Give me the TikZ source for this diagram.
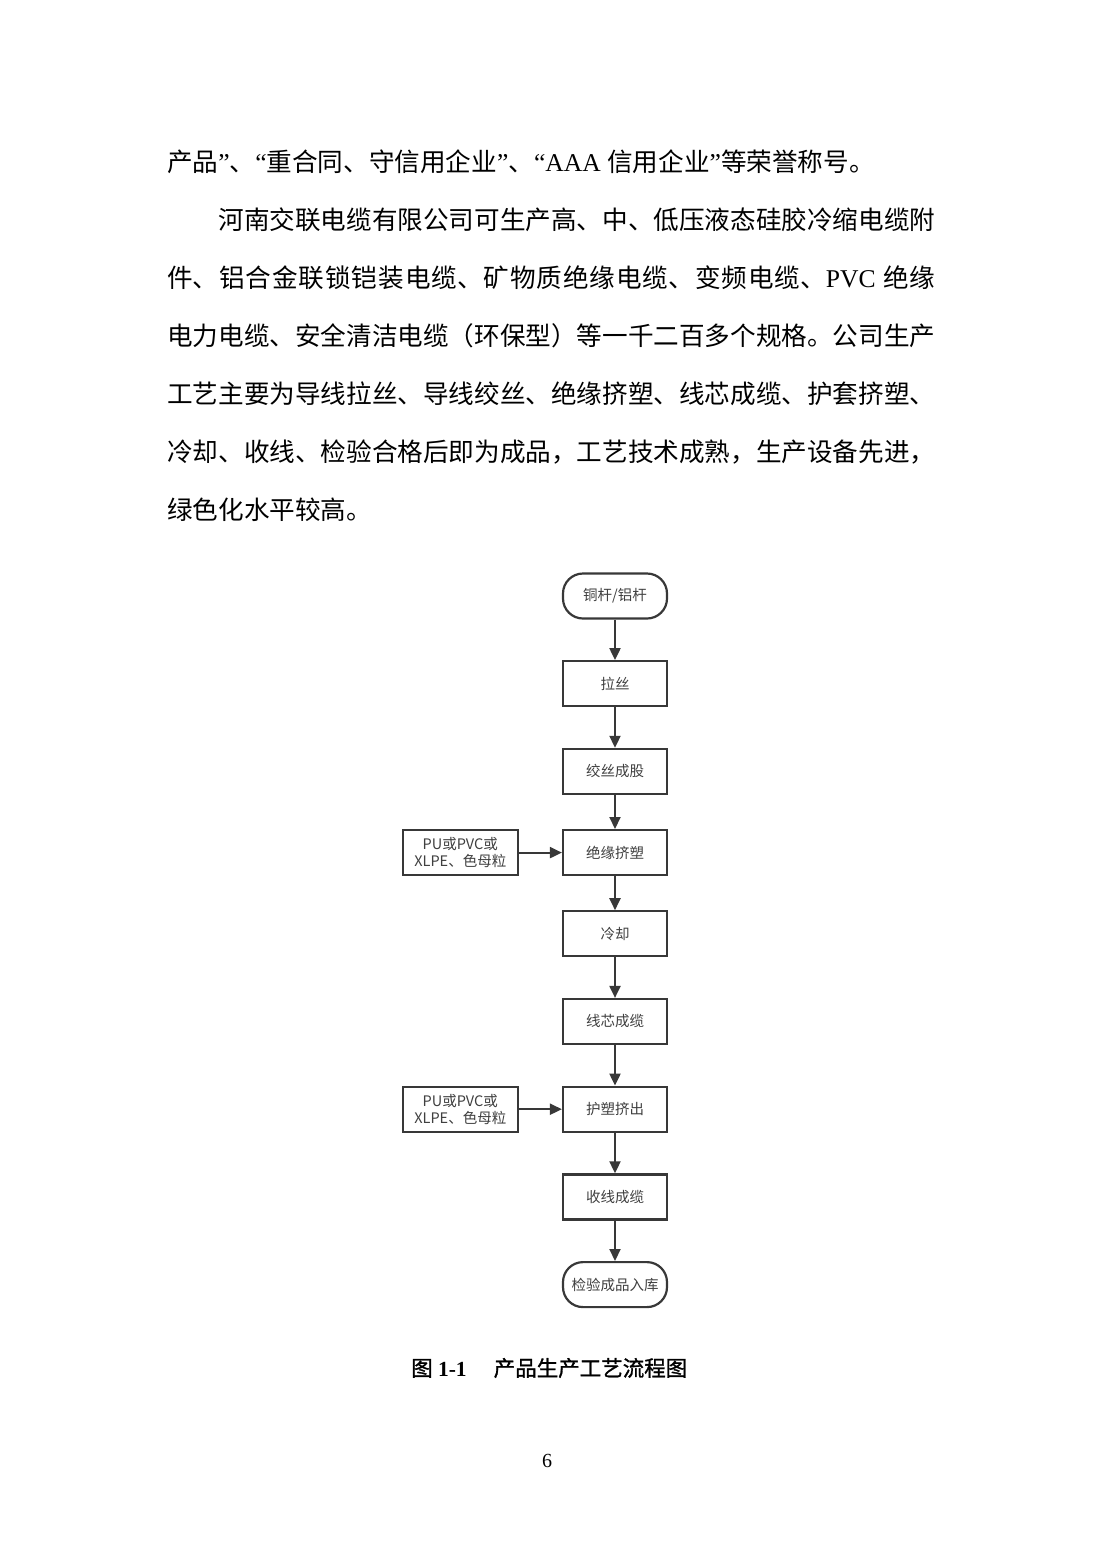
\documentclass[tikz,border=0pt]{standalone}
\usepackage{fontspec}
\setmainfont{Noto Sans CJK SC}
\newfontfamily\latin{Liberation Serif}
\newfontfamily\capfont[FakeBold=1.2]{Noto Sans CJK SC}
\usetikzlibrary{positioning,arrows.meta}
\XeTeXlinebreaklocale "zh"
\XeTeXlinebreakskip=0pt plus 3pt minus 0.5pt
\newcommand\en[1]{{\latin #1}}
\definecolor{boxline}{HTML}{383838}
\definecolor{boxtext}{HTML}{404040}

\begin{document}
\begin{tikzpicture}[x=1pt,y=-1pt,
    body/.style={anchor=base west,inner sep=0pt,text width=768pt,align=justify,
      font=\fontsize{25.6}{58}\selectfont},
    proc/.style={draw=boxline,line width=2.2pt,minimum width=104pt,minimum height=45pt,
      text=boxtext,font=\fontsize{14.5}{17}\selectfont,align=center,inner sep=1pt},
    term/.style={proc,rounded corners=20pt},
    feed/.style={proc,minimum width=115pt},
    flow/.style={draw=boxline,line width=2pt,-{Triangle[length=12pt,width=11pt]}},
    node distance=40.5pt]
  \fill[white] (0,0) rectangle (1102,1559);
  \useasboundingbox (0,0) rectangle (1102,1559);

  % text of the page
  \node[body] (txt) at (167,171.7) {\parindent=0pt
    产品\en{”}、\en{“}重合同、守信用企业\en{”}、\en{“}\en{AAA }信用企业\en{”}等荣誉称号。\par
    \hspace*{51.2pt}河南交联电缆有限公司可生产高、中、低压液态硅胶冷缩电缆附\linebreak
    件、铝合金联锁铠装电缆、矿物质绝缘电缆、变频电缆、\en{PVC }绝缘\linebreak
    电力电缆、安全清洁电缆（环保型）等一千二百多个规格。公司生产\linebreak
    工艺主要为导线拉丝、导线绞丝、绝缘挤塑、线芯成缆、护套挤塑、\linebreak
    冷却、收线、检验合格后即为成品，工艺技术成熟，生产设备先进，\linebreak
    绿色化水平较高。\par};

  % flow chart
  \node[term] (rod) at (615,596) {铜杆/铝杆};
  \node[proc, below=of rod] (drw) {拉丝};
  \node[proc, below=of drw] (strd) {绞丝成股};
  \node[proc, below=34pt of strd] (ins) {绝缘挤塑};
  \node[proc, below=34pt of ins] (cool) {冷却};
  \node[proc, below=of cool] (core) {线芯成缆};
  \node[proc, below=of core] (jack) {护塑挤出};
  \node[proc, below=of jack] (coil) {收线成缆};
  \node[term, below=of coil] (test) {检验成品入库};
  \node[feed, left=43pt of ins] (mat1) {PU或PVC或\\XLPE、色母粒};
  \node[feed, left=43pt of jack] (mat2) {PU或PVC或\\XLPE、色母粒};

  \draw (rod) edge[flow] (drw)
        (drw) edge[flow] (strd)
        (strd) edge[flow] (ins)
        (ins) edge[flow] (cool)
        (cool) edge[flow] (core)
        (core) edge[flow] (jack)
        (jack) edge[flow] (coil)
        (coil) edge[flow] (test)
        (mat1) edge[flow] (ins)
        (mat2) edge[flow] (jack);

  \node[anchor=west,inner sep=0pt,font=\capfont\fontsize{21.5}{21.5}\selectfont] (cap) at (411,1368)
    {图\en{ \textbf{1-1}}\hspace{27pt}产品生产工艺流程图};
  \node[inner sep=0pt,font=\latin\fontsize{20}{20}\selectfont] (page) at (547,1461) {6};
\end{tikzpicture}
\end{document}
